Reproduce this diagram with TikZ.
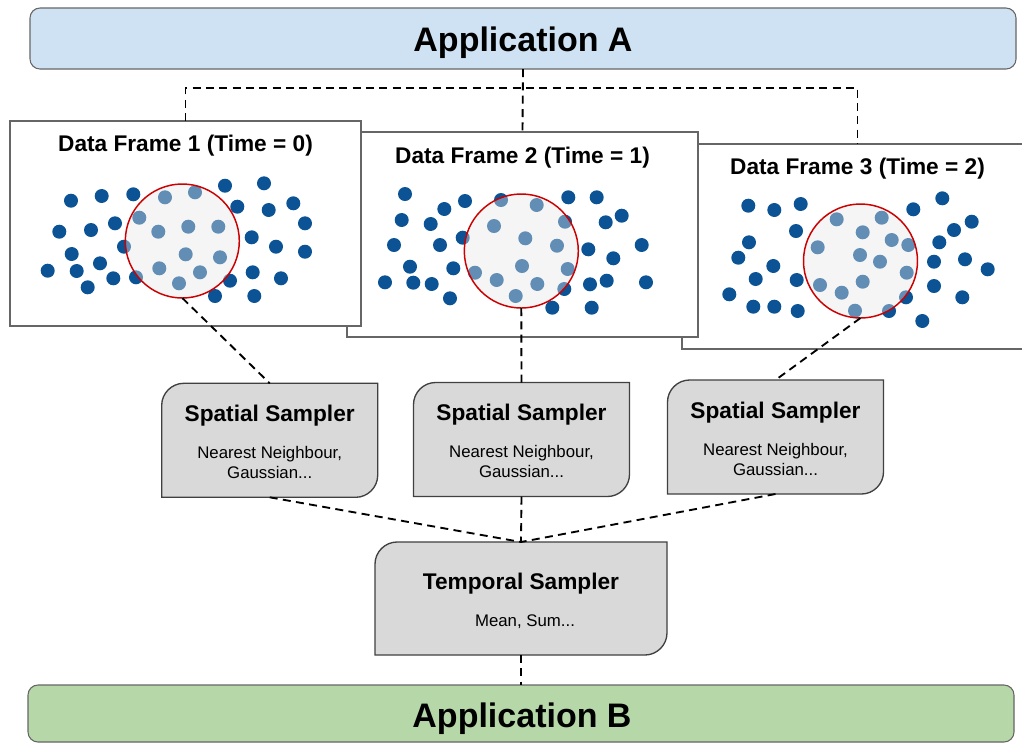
\documentclass[tikz,border=0pt]{standalone}
\usepackage{fontspec}
\setmainfont{Liberation Sans}
\usetikzlibrary{calc}
\definecolor{dotblue}{HTML}{0B5394}
\definecolor{appa}{HTML}{CFE2F3}
\definecolor{appb}{HTML}{B6D7A8}
\definecolor{sampfill}{HTML}{D9D9D9}
\definecolor{ringred}{HTML}{CC0000}
\definecolor{framegray}{HTML}{666666}
\definecolor{ringfill}{HTML}{E6E6E6}
\newcommand\tabshape[1]{%
  \filldraw[sampline] (#1.south west) -- ($(#1.north west)+(0,22)$)
    .. controls ($(#1.north west)+(0,10)$) and ($(#1.north west)+(10,0)$) .. ($(#1.north west)+(22,0)$)
    -- (#1.north east) -- ($(#1.south east)+(0,-22)$)
    .. controls ($(#1.south east)+(0,-10)$) and ($(#1.south east)+(-10,0)$) .. ($(#1.south east)+(-22,0)$)
    -- cycle;}
\tikzset{
  appbox/.style={draw=black!60, line width=0.8pt, rounded corners=7.5pt, inner sep=0pt, outer sep=0pt},
  apptext/.style={font=\fontsize{25.5}{30}\selectfont\bfseries, inner sep=0pt},
  framebox/.style={draw=framegray, fill=white, line width=1.5pt, minimum width=263.25pt, minimum height=153.75pt, inner sep=0pt, outer sep=0pt},
  ftitle/.style={font=\fontsize{17}{20}\selectfont\bfseries, inner sep=0pt},
  ring/.style={circle, draw=ringred, line width=1.1pt, fill=ringfill, fill opacity=0.4, minimum size=85.5pt, inner sep=0pt, outer sep=0pt},
  sampbox/.style={minimum width=162pt, minimum height=85.5pt, inner sep=0pt, outer sep=0pt},
  tempbox/.style={minimum width=219pt, minimum height=84.75pt, inner sep=0pt, outer sep=0pt},
  sampline/.style={draw=black!75, fill=sampfill, line width=1pt},
  stitle/.style={font=\fontsize{17}{20}\selectfont\bfseries, inner sep=0pt},
  ssub/.style={font=\fontsize{12.6}{15}\selectfont, inner sep=0pt},
  conn/.style={draw=black, line width=1.4pt, dash pattern=on 6pt off 4pt},
}
\begin{document}
\begin{tikzpicture}[x=0.75pt,y=-0.75pt]
\useasboundingbox (0,0) rectangle (1022,744);
\clip (0,0) rectangle (1022,744);
\fill[white] (0,0) rectangle (1022,744);

% application boxes
\node[appbox, fill=appa, minimum width=739.5pt, minimum height=45.75pt] (appA) at (523,38.5) {};
\node[apptext, anchor=base] (appAt) at (523,51) {Application A};
\node[appbox, fill=appb, minimum width=739.5pt, minimum height=42.75pt] (appB) at (521,713.5) {};
\node[apptext, anchor=base] (appBt) at (522,727.5) {Application B};

% frames (back to front)
\node[framebox] (f3) at (857.5,246.5) {};
\node[ftitle, anchor=base] (f3t) at ($(f3.north)+(0,30.5)$) {Data Frame 3 (Time = 2)};
\foreach \p in {(748.3,205.7),(774.3,210),(800.7,204),(796,231),(749,242.3),(738.3,257.7),(773.3,266),(755.7,279),(729.3,294.3),(753.3,306.7),(774.3,306.7),(797.7,311),(796.7,280),(913.3,209.3),(942.3,198.3),(971.7,221.7),(954,230),(939.3,242.3),(934,261.7),(965,259.3),(987.7,269.3),(934,286),(962.3,297.3),(906,297.3),(889,311),(922.3,321),
  (836.7,219.3),(881.7,217.7),(862.7,232.3),(891.7,240),(908.3,245),(817.7,247.3),(860,255),(880,261.7),(906.7,272.7),(820,285),(862.7,281.7),(841.7,292.7),(855,310.7)}
  \fill[dotblue] \p circle[radius=5.25pt];
\node[ring] (c3) at (860.5,261) {};

\node[framebox] (f2) at (522.5,234.5) {};
\node[ftitle, anchor=base] (f2t) at ($(f2.north)+(0,31)$) {Data Frame 2 (Time = 1)};
\foreach \p in {(405,194),(401.7,220),(394,245),(385,282.3),(410,266.7),(413.3,282.7),(431.7,284),(450,298.3),(430.7,224),(444.3,209),(465,201),(440,245),(462.7,237.7),(453.3,268.3),(501,200),(568.3,197.3),(596.7,197.3),(621.7,215.7),(605.7,222.3),(565,221.7),(588.3,249.3),(641.7,245),(613.3,258.3),(590,284.3),(606.7,280.7),(646,282.3),(564.3,289),(552.3,307.7),(591.7,307.7),
  (536.7,205),(494,226),(525.3,238.3),(557,245.7),(522,266),(567.7,269),(475,272.7),(496.7,280),(537.3,284),(515.7,296)}
  \fill[dotblue] \p circle[radius=5.25pt];
\node[ring] (c2) at (521.3,251) {};

\node[framebox] (f1) at (185.5,223.5) {};
\node[ftitle, anchor=base] (f1t) at ($(f1.north)+(0,30)$) {Data Frame 1 (Time = 0)};
\foreach \p in {(71,200.7),(101.7,196),(133.3,194.3),(225,185.7),(264,183.3),(59.3,231.7),(91,230),(115,223.3),(237.3,206.7),(268.7,210),(293.3,203.3),(305,223.3),(124,246.7),(71.7,254),(100,263.3),(47.7,270.7),(76.7,271),(87.7,287.3),(113.3,278.3),(136,277.3),(251.7,237.3),(276,246.7),(305,251.7),(230,280.7),(252.7,272.3),(281,278.3),(215,296),(254.3,296),
  (165,197.3),(195,192.3),(139.3,217.7),(158.3,231.7),(188.3,226.7),(218.3,226.7),(185.7,254.3),(220,257.3),(159.3,268.3),(200,272.3),(179,283.3)}
  \fill[dotblue] \p circle[radius=5.25pt];
\node[ring] (c1) at (182.3,241) {};

% samplers
\node[sampbox] (s1) at (269.7,440.3) {};
\node[sampbox] (s2) at (521.5,439.5) {};
\node[sampbox] (s3) at (775.5,437) {};
\node[tempbox] (t) at (521,598.5) {};
\tabshape{s1}
\tabshape{s2}
\tabshape{s3}
\tabshape{t}
\foreach \s in {s1,s2,s3}{
  \node[stitle, anchor=base] (\s t) at ($(\s.north)+(0,38)$) {Spatial Sampler};
  \node[ssub, anchor=base] (\s a) at ($(\s.north)+(0,75)$) {Nearest Neighbour,};
  \node[ssub, anchor=base] (\s b) at ($(\s.north)+(0,95)$) {Gaussian...};
}
\node[stitle, anchor=base] (tt) at ($(t.north)+(0,47.5)$) {Temporal Sampler};
\node[ssub, anchor=base] (ta) at ($(t.north)+(4,84)$) {Mean, Sum...};

% connectors
\coordinate (j) at (522,88);
\draw[conn] (appA.south) -- (f2.north);
\draw[conn] (f1.north) |- (j) -| (f3.north);
\draw[conn] (c1.south) -- (s1.north);
\draw[conn] (c2.south) -- (s2.north);
\draw[conn] (c3.south) -- (s3.north);
\draw[conn] (s1.south) -- (t.north);
\draw[conn] (s2.south) -- (t.north);
\draw[conn] (s3.south) -- (t.north);
\draw[conn] (t.south) -- (appB.north);
\end{tikzpicture}
\end{document}
